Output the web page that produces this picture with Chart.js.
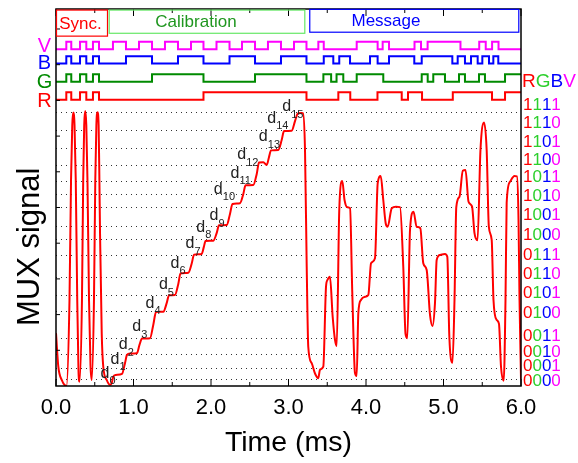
<!DOCTYPE html>
<html>
<head>
<meta charset="utf-8">
<script src="https://cdn.jsdelivr.net/npm/chart.js@4.4.1/dist/chart.umd.min.js"></script>
<style>
  html, body { margin: 0; padding: 0; background: #fff; }
</style>
</head>
<body>
<canvas id="myChart" width="578" height="463"></canvas>
<script>
// time axis (ms)
var timeTicks = [0, 1, 2, 3, 4, 5, 6];
var leftTicks = [1, 2, 3, 4, 5, 6, 7, 8, 9, 10];

// MUX analog signal
var muxT = [0.000, 0.030, 0.074, 0.135, 0.174, 0.194, 0.210, 0.223, 0.239, 0.255, 0.274, 0.290, 0.303,
  0.335, 0.351, 0.364, 0.377, 0.391, 0.406, 0.426, 0.445, 0.461,
  0.490, 0.507, 0.521, 0.535, 0.550, 0.560, 0.568, 0.590, 0.610, 0.654, 0.697, 0.719, 0.739, 0.770,
  0.852, 0.890, 0.916, 0.955, 1.045, 1.077, 1.110, 1.213, 1.255, 1.290, 1.385, 1.428, 1.458, 1.535,
  1.578, 1.606, 1.707, 1.751, 1.781, 1.880, 1.907, 1.929, 2.030, 2.074, 2.103, 2.203, 2.245, 2.277,
  2.374, 2.417, 2.445, 2.546, 2.590, 2.619, 2.675, 2.719, 2.748, 2.774, 2.868, 2.912, 2.942, 3.041,
  3.084, 3.116, 3.148, 3.187,
  3.213, 3.235, 3.255, 3.299, 3.342, 3.385, 3.406, 3.449, 3.484, 3.503, 3.535, 3.570, 3.600, 3.622,
  3.655, 3.694, 3.723, 3.759, 3.794, 3.823, 3.858, 3.880, 3.901, 3.935, 3.987, 4.030, 4.065, 4.116,
  4.151, 4.190, 4.223, 4.254, 4.280, 4.332, 4.387, 4.439, 4.481, 4.510, 4.533, 4.568, 4.613, 4.654,
  4.701, 4.739, 4.783, 4.826, 4.858, 4.890, 4.912, 4.955, 5.019, 5.049, 5.075, 5.116, 5.142, 5.165,
  5.206, 5.249, 5.284, 5.323, 5.368, 5.400, 5.439, 5.477, 5.523, 5.557, 5.585, 5.622, 5.645, 5.687,
  5.716, 5.742, 5.777, 5.800, 5.815, 5.858, 5.916, 5.948, 5.968, 5.981, 6.000];
var muxV = [1.48, 0.54, 0.17, 0.00, 2.41, 5.77, 7.31, 7.66, 7.31, 5.77, 2.41, 0.45, 0.12,
  2.41, 5.77, 7.31, 7.70, 7.31, 5.77, 2.41, 0.59, 0.17,
  2.41, 5.77, 7.31, 7.67, 7.31, 5.77, 4.29, 1.48, 0.54, 0.17, 0.03, 0.08, 0.26, 0.31,
  0.34, 0.64, 0.87, 0.91, 0.92, 1.15, 1.33, 1.34, 1.71, 2.07, 2.08, 2.32, 2.54, 2.55,
  2.86, 3.15, 3.17, 3.43, 3.68, 3.70, 3.89, 4.06, 4.07, 4.29, 4.50, 4.51, 4.82, 5.10,
  5.12, 5.38, 5.62, 5.63, 5.94, 6.26, 6.27, 6.19, 6.41, 6.60, 6.61, 6.89, 7.14, 7.15,
  7.42, 7.62, 7.65, 7.64,
  6.61, 3.34, 1.10, 0.64, 0.35, 0.22, 0.46, 0.54, 2.78, 2.97, 3.06, 1.94, 1.29, 1.12,
  4.93, 5.74, 5.21, 5.01, 4.98, 2.61, 0.36, 0.28, 2.04, 2.41, 2.50, 2.55, 3.44, 3.58,
  5.68, 5.88, 5.21, 4.56, 4.46, 4.98, 5.02, 5.01, 3.34, 1.46, 1.34, 4.37, 4.88, 4.46,
  4.42, 3.44, 3.25, 1.99, 1.68, 2.32, 3.53, 3.67, 3.70, 3.62, 1.40, 0.65, 2.41, 5.01,
  5.30, 6.03, 6.05, 5.16, 5.03, 4.28, 4.08, 6.61, 7.38, 6.61, 4.46, 4.09, 2.41, 1.85,
  1.74, 0.54, 0.15, 2.41, 5.13, 5.72, 5.88, 5.87, 4.65, 2.41, 0.19];

// dotted reference levels and the 4-bit codes on the right
var gridLevels = [7.66, 7.15, 6.64, 6.18, 5.74, 5.36, 4.99, 4.48, 4.11, 3.66, 3.05, 2.53, 2.10, 1.32, 0.89, 0.48, 0.19];
var codeLabels = ['1111', '1110', '1101', '1100', '1011', '1010', '1001', '1000',
                  '0111', '0110', '0101', '0100', '0011', '0010', '0001', '0000'];
var codeLevels = [7.87, 7.36, 6.82, 6.31, 5.85, 5.32, 4.77, 4.23, 3.65, 3.13, 2.60, 2.05, 1.40, 0.94, 0.54, 0.12];

// d0..d15 annotations (time, level)
var dLabelT = [0.632, 0.761, 0.868, 1.041, 1.213, 1.385, 1.535, 1.729, 1.867, 2.039, 2.094, 2.310, 2.396, 2.675, 2.783, 2.977];
var dLabelV = [0.36, 0.75, 1.15, 1.66, 2.32, 2.83, 3.44, 3.98, 4.45, 4.76, 5.51, 5.96, 6.47, 6.98, 7.50, 7.82];

// frame segments
var segNames = ['Sync.', 'Calibration', 'Message'];
var segStart = [0.0, 0.68, 3.268];
var segEnd = [0.658, 3.204, 5.965];
var segTextT = [0.316, 1.806, 4.258];

// digital channels: toggle times (ms), all start low
var syncEdges = [0.133, 0.197, 0.310, 0.391, 0.477, 0.555];
var chanNames = ['V', 'B', 'G', 'R'];
var edgesV = syncEdges.concat([0.735, 0.903, 1.071, 1.239, 1.406, 1.574, 1.742, 1.903, 2.071, 2.239, 2.400, 2.568, 2.735, 2.903, 3.071, 3.232,
  3.385, 3.455, 3.880, 4.150, 4.215, 4.297, 4.626, 4.710, 4.795, 5.219, 5.461, 5.545, 5.627, 5.710]);
var edgesB = syncEdges.concat([0.903, 1.239, 1.574, 1.903, 2.239, 2.568, 2.903, 3.232,
  3.455, 3.578, 3.655, 3.794, 4.052, 4.150, 4.297, 4.623, 4.719, 5.114, 5.183, 5.277, 5.355, 5.441, 5.501, 5.587, 5.643, 5.707]);
var edgesG = syncEdges.concat([1.239, 1.903, 2.568, 3.232,
  3.450, 3.550, 3.620, 3.707, 3.880, 4.223, 4.719, 4.796, 4.868, 5.019, 5.200, 5.277, 5.458, 5.535, 5.794]);
var edgesR = syncEdges.concat([1.903, 3.232,
  3.643, 3.797, 4.148, 4.461, 4.542, 4.723, 5.120, 5.626, 5.794]);

// where each digital trace sits on the y scale
var chanBase = [9.43, 9.03, 8.52, 8.02];
var chanAmp = 0.21;
var chanColor = ['#ff00ff', '#0000ff', '#008a00', '#ff0000'];
var chanLabelV = [9.52, 9.02, 8.49, 7.96];

var FONT = '"Liberation Sans", Arial, sans-serif';
var LIME = '#2ccf2c';

function stepPoints(edges, base) {
    var pts = [{x: 0, y: base}];
    var lvl = 0;
    edges.forEach(function(e) {
        pts.push({x: e, y: base + lvl * chanAmp});
        lvl = 1 - lvl;
        pts.push({x: e, y: base + lvl * chanAmp});
    });
    pts.push({x: 6, y: base + lvl * chanAmp});
    return pts;
}

var allEdges = [edgesV, edgesB, edgesG, edgesR];
var datasets = [{
    data: muxT.map(function(t, i) { return {x: t, y: muxV[i]}; }),
    borderColor: '#ff0000',
    borderWidth: 2,
    pointRadius: 0,
    cubicInterpolationMode: 'monotone',
    fill: false
}];
allEdges.forEach(function(ed, i) {
    datasets.push({
        data: stepPoints(ed, chanBase[i]),
        borderColor: chanColor[i],
        borderWidth: 2,
        pointRadius: 0,
        tension: 0,
        fill: false
    });
});

var decor = {
    id: 'decor',
    afterDraw: function(chart) {
        var ctx = chart.ctx;
        var a = chart.chartArea;
        var x = chart.scales.x, y = chart.scales.y;
        ctx.save();

        // frame
        ctx.strokeStyle = '#000';
        ctx.lineWidth = 1.5;
        ctx.strokeRect(a.left, a.top, a.right - a.left, a.bottom - a.top);

        // inward ticks
        ctx.lineWidth = 1;
        ctx.beginPath();
        timeTicks.forEach(function(t, i) {
            var px = x.getPixelForValue(t);
            ctx.moveTo(px, a.bottom); ctx.lineTo(px, a.bottom - 7);
            ctx.moveTo(px, a.top); ctx.lineTo(px, a.top + 7);
            if (i < timeTicks.length - 1) {
                var pm = x.getPixelForValue(t + 0.5);
                ctx.moveTo(pm, a.bottom); ctx.lineTo(pm, a.bottom - 4);
                ctx.moveTo(pm, a.top); ctx.lineTo(pm, a.top + 4);
            }
        });
        leftTicks.forEach(function(v) {
            var py = y.getPixelForValue(v);
            ctx.moveTo(a.left, py); ctx.lineTo(a.left + 4, py);
        });
        ctx.stroke();

        // segment boxes
        var boxCol = ['#ff0000', '#66e866', '#0000ff'];
        var txtCol = ['#ff0000', '#1f961f', '#0000ff'];
        var boxTop = [10.53, 10.53, 10.55];
        var boxBot = [9.80, 9.88, 9.91];
        ctx.lineWidth = 1.2;
        ctx.font = '17px ' + FONT;
        ctx.textAlign = 'center';
        ctx.textBaseline = 'middle';
        segNames.forEach(function(n, i) {
            var x0 = x.getPixelForValue(segStart[i]), x1 = x.getPixelForValue(segEnd[i]);
            var y0 = y.getPixelForValue(boxTop[i]), y1 = y.getPixelForValue(boxBot[i]);
            ctx.strokeStyle = boxCol[i];
            ctx.strokeRect(x0 + 0.5, y0, x1 - x0, y1 - y0);
            ctx.fillStyle = txtCol[i];
            ctx.fillText(n, x.getPixelForValue(segTextT[i]), (y0 + y1) / 2 + 1);
        });

        // channel names on the left
        ctx.font = '20px ' + FONT;
        chanNames.forEach(function(n, i) {
            ctx.fillStyle = chanColor[i];
            ctx.fillText(n, a.left - 11.5, y.getPixelForValue(chanLabelV[i]));
        });

        // RGBV header and codes on the right
        var digitCol = ['#ff0000', LIME, '#0000ff', '#ff00ff'];
        ctx.textAlign = 'left';
        ctx.font = '19px ' + FONT;
        var hx = a.right + 1;
        'RGBV'.split('').forEach(function(c, k) {
            ctx.fillStyle = digitCol[k];
            ctx.fillText(c, hx, y.getPixelForValue(8.52));
            hx += ctx.measureText(c).width;
        });
        ctx.font = '17px ' + FONT;
        codeLabels.forEach(function(code, i) {
            var cx = a.right + 2;
            var cy = y.getPixelForValue(codeLevels[i]);
            code.split('').forEach(function(c, k) {
                ctx.fillStyle = digitCol[k];
                ctx.fillText(c, cx, cy);
                cx += ctx.measureText(c).width;
            });
        });

        // d0..d15
        ctx.fillStyle = '#222';
        dLabelT.forEach(function(t, i) {
            var px = x.getPixelForValue(t), py = y.getPixelForValue(dLabelV[i]);
            ctx.font = '16px ' + FONT;
            ctx.textAlign = 'center';
            ctx.fillText('d', px, py);
            ctx.font = '11px ' + FONT;
            ctx.textAlign = 'left';
            ctx.fillText(String(i), px + 4.5, py + 8);
        });

        // y title
        ctx.save();
        ctx.translate(30, y.getPixelForValue(3.9));
        ctx.rotate(-Math.PI / 2);
        ctx.textAlign = 'center';
        ctx.fillStyle = '#000';
        ctx.font = '31px ' + FONT;
        ctx.fillText('MUX signal', 0, 0);
        ctx.restore();

        ctx.restore();
    }
};

var ctx = document.getElementById('myChart').getContext('2d');
var myChart = new Chart(ctx, {
    type: 'line',
    data: { datasets: datasets },
    options: {
        responsive: false,
        animation: false,
        devicePixelRatio: 1,
        layout: { padding: { top: 9, right: 57, left: 0, bottom: 0 } },
        plugins: { legend: { display: false }, tooltip: { enabled: false } },
        scales: {
            x: {
                type: 'linear', min: 0, max: 6,
                afterBuildTicks: function(s) { s.ticks = timeTicks.map(function(v) { return {value: v}; }); },
                ticks: {
                    callback: function(v) { return v.toFixed(1); },
                    font: { family: FONT, size: 22 }, color: '#000', padding: 9, maxRotation: 0
                },
                grid: { display: false, drawTicks: false },
                border: { display: false },
                title: { display: true, text: 'Time (ms)', color: '#000', font: { family: FONT, size: 28.5 }, padding: { top: 0, bottom: 3 } },
                afterFit: function(s) { s.height = 77; }
            },
            y: {
                type: 'linear', min: 0, max: 10.56,
                afterBuildTicks: function(s) { s.ticks = gridLevels.map(function(v) { return {value: v}; }); },
                ticks: { display: false },
                grid: { color: '#333', lineWidth: 1, drawTicks: false },
                border: { display: false, dash: [1, 4] },
                afterFit: function(s) { s.width = 56; }
            }
        }
    },
    plugins: [decor]
});
</script>
</body>
</html>
